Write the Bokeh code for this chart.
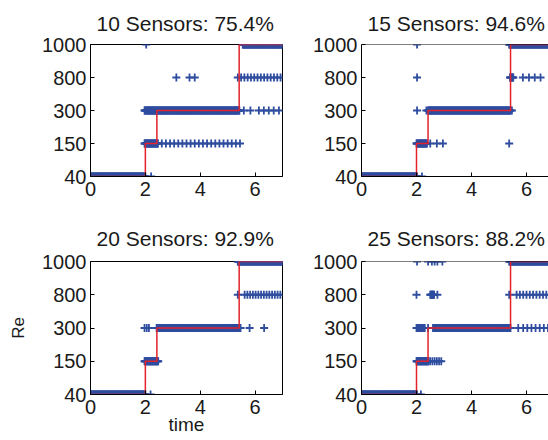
import numpy as np
from bokeh.plotting import figure
from bokeh.layouts import column, row
from bokeh.models import Range1d, FixedTicker, Span
from bokeh.embed import file_html
from bokeh.resources import INLINE

# ---------------- data ----------------
RE_LEVELS = [40, 150, 300, 800, 1000]
X_TICKS = [0, 2, 4, 6]

TRUE_TIME = [0.0, 2.0, 2.42, 5.42, 7.0]
TRUE_RE = [40, 150, 300, 1000, 1000]

TITLES = ["10 Sensors: 75.4%", "15 Sensors: 94.6%",
          "20 Sensors: 92.9%", "25 Sensors: 88.2%"]

DENSE_STEP = 0.02   # sampling step of continuous prediction runs

# continuous runs of predictions: (start time, end time, Re)
S10_RUNS = [(0.0, 2.0, 40), (1.97, 5.44, 300), (1.97, 2.45, 150), (5.55, 7.0, 1000)]
# sparser runs: (start, end, Re, spacing)
S10_SPARSE = [(2.45, 5.53, 150, 0.15), (5.37, 7.0, 800, 0.12)]
S10_PT_T = [2.21, 2.03, 3.13, 3.61, 3.80, 5.59, 5.83, 6.14, 6.32, 6.50, 6.68, 6.87]
S10_PT_RE = [40, 1000, 800, 800, 800, 300, 300, 300, 300, 300, 300, 300]

S15_RUNS = [(0.0, 2.02, 40), (2.0, 2.38, 150), (2.42, 5.42, 300),
            (5.37, 7.0, 1000), (5.40, 5.52, 800)]
S15_SPARSE = []
S15_PT_T = [2.2, 2.5, 2.74, 2.96, 5.37, 2.02, 2.36, 5.47, 2.02, 5.87, 6.09, 6.3, 6.51, 2.02]
S15_PT_RE = [40, 150, 150, 150, 150, 300, 300, 300, 800, 800, 800, 800, 800, 1000]

S20_RUNS = [(0.0, 2.0, 40), (1.97, 2.47, 150), (2.41, 5.47, 300), (5.37, 7.0, 1000)]
S20_SPARSE = [(5.62, 7.0, 800, 0.1)]
S20_PT_T = [2.19, 1.97, 2.05, 2.13, 5.8, 6.33, 5.37]
S20_PT_RE = [40, 300, 300, 300, 300, 300, 800]

S25_RUNS = [(0.0, 2.02, 40), (2.0, 2.44, 150), (2.0, 2.3, 300), (2.6, 5.42, 300),
            (5.37, 7.0, 1000), (2.5, 2.65, 800)]
S25_SPARSE = [(2.5, 2.92, 150, 0.08), (5.64, 7.0, 800, 0.12), (5.88, 7.0, 300, 0.15)]
S25_PT_T = [2.16, 2.42, 5.7, 2.0, 5.37, 2.76, 2.02, 2.42, 2.56, 2.66, 2.76, 2.94]
S25_PT_RE = [40, 300, 300, 800, 800, 800, 1000, 1000, 1000, 1000, 1000, 1000]

PANELS = [
    (TITLES[0], S10_RUNS, S10_SPARSE, S10_PT_T, S10_PT_RE),
    (TITLES[1], S15_RUNS, S15_SPARSE, S15_PT_T, S15_PT_RE),
    (TITLES[2], S20_RUNS, S20_SPARSE, S20_PT_T, S20_PT_RE),
    (TITLES[3], S25_RUNS, S25_SPARSE, S25_PT_T, S25_PT_RE),
]

# ---------------- style ----------------
BLUE = "#2f4d9f"
RED = "#e3222b"
FONT = "Liberation Sans"
TXT = "#1a1a1a"


def lvl(v):
    return RE_LEVELS.index(v)


def expand(runs, sparse, pt_t, pt_re):
    xs, ys = [], []
    for s, e, r in runs:
        t = np.arange(s, e + 1e-9, DENSE_STEP)
        xs.extend(t.tolist())
        ys.extend([lvl(r)] * len(t))
    for s, e, r, d in sparse:
        t = np.arange(s, e + 1e-9, d)
        xs.extend(t.tolist())
        ys.extend([lvl(r)] * len(t))
    xs.extend(pt_t)
    ys.extend([lvl(r) for r in pt_re])
    return xs, ys


def make_panel(idx, is_left, is_top):
    title, runs, sparse, pt_t, pt_re = PANELS[idx]
    if is_left:
        width, b_left, b_right, x_end = 308, 90, 26, 7.0
    else:
        width, b_left, b_right, x_end = 240, 53, 0, 6.8
    if is_top:
        height, b_top, b_bottom, t_standoff = 206, 43, 30, 19
    else:
        height, b_top, b_bottom, t_standoff = 234, 55, 46, 23

    p = figure(width=width, height=height, x_range=Range1d(0, x_end),
               y_range=Range1d(0, 4), output_backend="svg",
               toolbar_location=None, min_border=0,
               min_border_left=b_left, min_border_right=b_right,
               min_border_top=b_top, min_border_bottom=b_bottom,
               title=title)
    p.title.align = "left"
    p.title.offset = 6
    p.title.standoff = t_standoff
    p.title.text_font = FONT
    p.title.text_font_size = "21px"
    p.title.text_font_style = "normal"
    p.title.text_color = TXT

    p.xgrid.visible = False
    p.ygrid.visible = False
    p.background_fill_color = "white"
    p.border_fill_color = "white"

    p.xaxis.ticker = FixedTicker(ticks=X_TICKS)
    p.yaxis.ticker = FixedTicker(ticks=list(range(len(RE_LEVELS))))
    p.yaxis.major_label_overrides = {i: str(v) for i, v in enumerate(RE_LEVELS)}
    for ax in (p.xaxis[0], p.yaxis[0]):
        ax.axis_line_color = "black"
        ax.major_tick_line_color = "black"
        ax.major_tick_in = 4
        ax.major_tick_out = 0
        ax.minor_tick_line_color = None
        ax.major_label_text_font = FONT
        ax.major_label_text_font_size = "20px"
        ax.major_label_text_color = TXT
        ax.axis_label_text_font = FONT
        ax.axis_label_text_font_style = "normal"
        ax.axis_label_text_color = TXT
    p.xaxis.major_label_standoff = 5
    p.yaxis.major_label_standoff = 4

    if is_left:
        p.outline_line_color = "black"
        p.outline_line_width = 1
    else:
        p.outline_line_color = None
        p.add_layout(Span(location=4, dimension="width", line_color="black", line_width=1))

    xs, ys = expand(runs, sparse, pt_t, pt_re)
    p.scatter(xs, ys, marker="cross", size=8, line_color=BLUE, line_width=1.8)

    p.step(TRUE_TIME, [lvl(r) for r in TRUE_RE], mode="after",
           line_color=RED, line_width=1.5)

    if is_left and not is_top:
        p.xaxis.axis_label = "time"
        p.xaxis.axis_label_text_font_size = "19px"
        p.xaxis.axis_label_standoff = -3
        p.yaxis.axis_label = "Re"
        p.yaxis.axis_label_text_font_size = "17px"
        p.yaxis.axis_label_standoff = 11
    return p


p1 = make_panel(0, True, True)
p2 = make_panel(1, False, True)
p3 = make_panel(2, True, False)
p4 = make_panel(3, False, False)

layout = column(row(p1, p2, spacing=0), row(p3, p4, spacing=0), spacing=0)

open("out.html", "w").write(file_html(layout, INLINE))
